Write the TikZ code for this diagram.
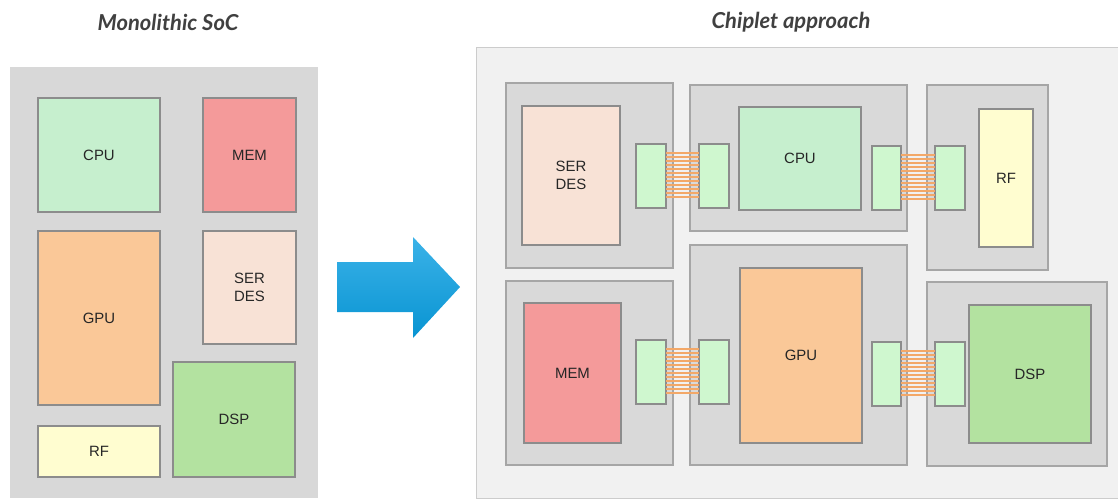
\documentclass[tikz,border=0pt]{standalone}
\usepackage{fontspec}
\setmainfont{Liberation Sans}
\newfontfamily\titlefont{Lato}
\usepackage{tikz}
\usetikzlibrary{fit,calc}

\definecolor{panelgray}{HTML}{D8D8D8}
\definecolor{pagegray}{HTML}{F1F1F1}
\definecolor{chipgray}{HTML}{D9D9D9}
\definecolor{cpuC}{HTML}{C6EFCE}
\definecolor{memC}{HTML}{F49A9A}
\definecolor{gpuC}{HTML}{FAC898}
\definecolor{serC}{HTML}{F8E2D6}
\definecolor{dspC}{HTML}{B3E2A0}
\definecolor{rfC}{HTML}{FFFDD0}
\definecolor{phyC}{HTML}{CFF7CF}
\definecolor{wireC}{HTML}{F3A868}
\definecolor{arrowTop}{HTML}{3BB2E8}
\definecolor{arrowBot}{HTML}{0894D2}

\begin{document}
\begin{tikzpicture}[
  x=0.02cm, y=-0.02cm,
  blk/.style={draw=black!45, line width=0.6pt, inner sep=0pt},
  lbl/.style={align=center, inner sep=0pt, text=black!85,
    font=\fontsize{8.5}{10.5}\selectfont},
  chiplet/.style={draw=black!35, fill=chipgray, line width=0.6pt, inner sep=0pt},
  phy/.style={draw=black!45, fill=phyC, line width=0.6pt, inner sep=0pt, outer sep=0pt},
  wire/.style={color=wireC, line width=0.04cm},
  ttl/.style={font=\titlefont\bfseries\itshape\fontsize{12.5}{14}\selectfont, text=black!75},
]
\useasboundingbox (0,0) rectangle (1118,498);

  % Titles
  \node[ttl] (ttlMono) at (168,22) {Monolithic SoC};
  \node[ttl] (ttlChip) at (791,22) {Chiplet approach};

  % Monolithic die
  \node[fill=panelgray, inner sep=0pt, fit={(10,67) (318,498)}] (soc) {};
  \node[blk, fill=cpuC, fit={(38,98) (160,212)}] (cpuM) {};
  \node[blk, fill=memC, fit={(203,98) (296,212)}] (memM) {};
  \node[blk, fill=gpuC, fit={(38,231) (160,405)}] (gpuM) {};
  \node[blk, fill=serC, fit={(203,231) (296,344)}] (serM) {};
  \node[blk, fill=dspC, fit={(173,362) (295,477)}] (dspM) {};
  \node[blk, fill=rfC, fit={(38,426) (160,477)}] (rfM) {};
  \node[lbl] (cpuMt) at (cpuM) {CPU};
  \node[lbl] (memMt) at (memM) {MEM};
  \node[lbl] (gpuMt) at (gpuM) {GPU};
  \node[lbl] (serMt) at (serM) {SER\\DES};
  \node[lbl] (dspMt) at (dspM) {DSP};
  \node[lbl] (rfMt) at (rfM) {RF};

  % Arrow
  \shade[top color=arrowTop, bottom color=arrowBot]
    (337,262) -- (413,262) -- (413,237) -- (460,287) -- (413,338)
    -- (413,312) -- (337,312) -- cycle;

  % Chiplet package
  \node[draw=black!20, fill=pagegray, inner sep=0pt, fit={(476,47) (1118,498)}] (pkg) {};
  \node[chiplet, fit={(506,83) (673,268)}] (serChip) {};
  \node[chiplet, fit={(690,85) (907,231)}] (cpuChip) {};
  \node[chiplet, fit={(927,85) (1048,270)}] (rfChip) {};
  \node[chiplet, fit={(506,281) (673,465)}] (memChip) {};
  \node[chiplet, fit={(690,245) (907,465)}] (gpuChip) {};
  \node[chiplet, fit={(927,282) (1107,466)}] (dspChip) {};

  % Blocks
  \node[blk, fill=serC, fit={(522,106) (620,245)}] (ser) {};
  \node[blk, fill=cpuC, fit={(739,107) (861,210)}] (cpu) {};
  \node[blk, fill=rfC, fit={(979,109) (1033,247)}] (rf) {};
  \node[blk, fill=memC, fit={(524,303) (621,443)}] (mem) {};
  \node[blk, fill=gpuC, fit={(740,268) (862,443)}] (gpu) {};
  \node[blk, fill=dspC, fit={(969,305) (1091,443)}] (dsp) {};
  \node[lbl] (sert) at (ser) {SER\\DES};
  \node[lbl] (cput) at (cpu) {CPU};
  \node[lbl] (rft) at (rf) {RF};
  \node[lbl] (memt) at (mem) {MEM};
  \node[lbl] (gput) at (gpu) {GPU};
  \node[lbl] (dspt) at (dsp) {DSP};

  % PHYs
  \node[phy, fit={(636,144) (666,208)}] (p1) {};
  \node[phy, fit={(699,144) (729,208)}] (p2) {};
  \node[phy, fit={(872,146) (901,210)}] (p3) {};
  \node[phy, fit={(935,146) (965,210)}] (p4) {};
  \node[phy, fit={(636,340) (666,404)}] (p5) {};
  \node[phy, fit={(699,340) (729,404)}] (p6) {};
  \node[phy, fit={(872,342) (901,406)}] (p7) {};
  \node[phy, fit={(935,342) (965,406)}] (p8) {};

  % Wires
  \foreach \a/\b in {p1/p2, p3/p4, p5/p6, p7/p8}
    \draw[wire] \foreach \i in {0,...,11}{
      ($(\a.north east)+(0,9+4*\i)$) -- ($(\b.north west)+(0,9+4*\i)$)};
\end{tikzpicture}
\end{document}
